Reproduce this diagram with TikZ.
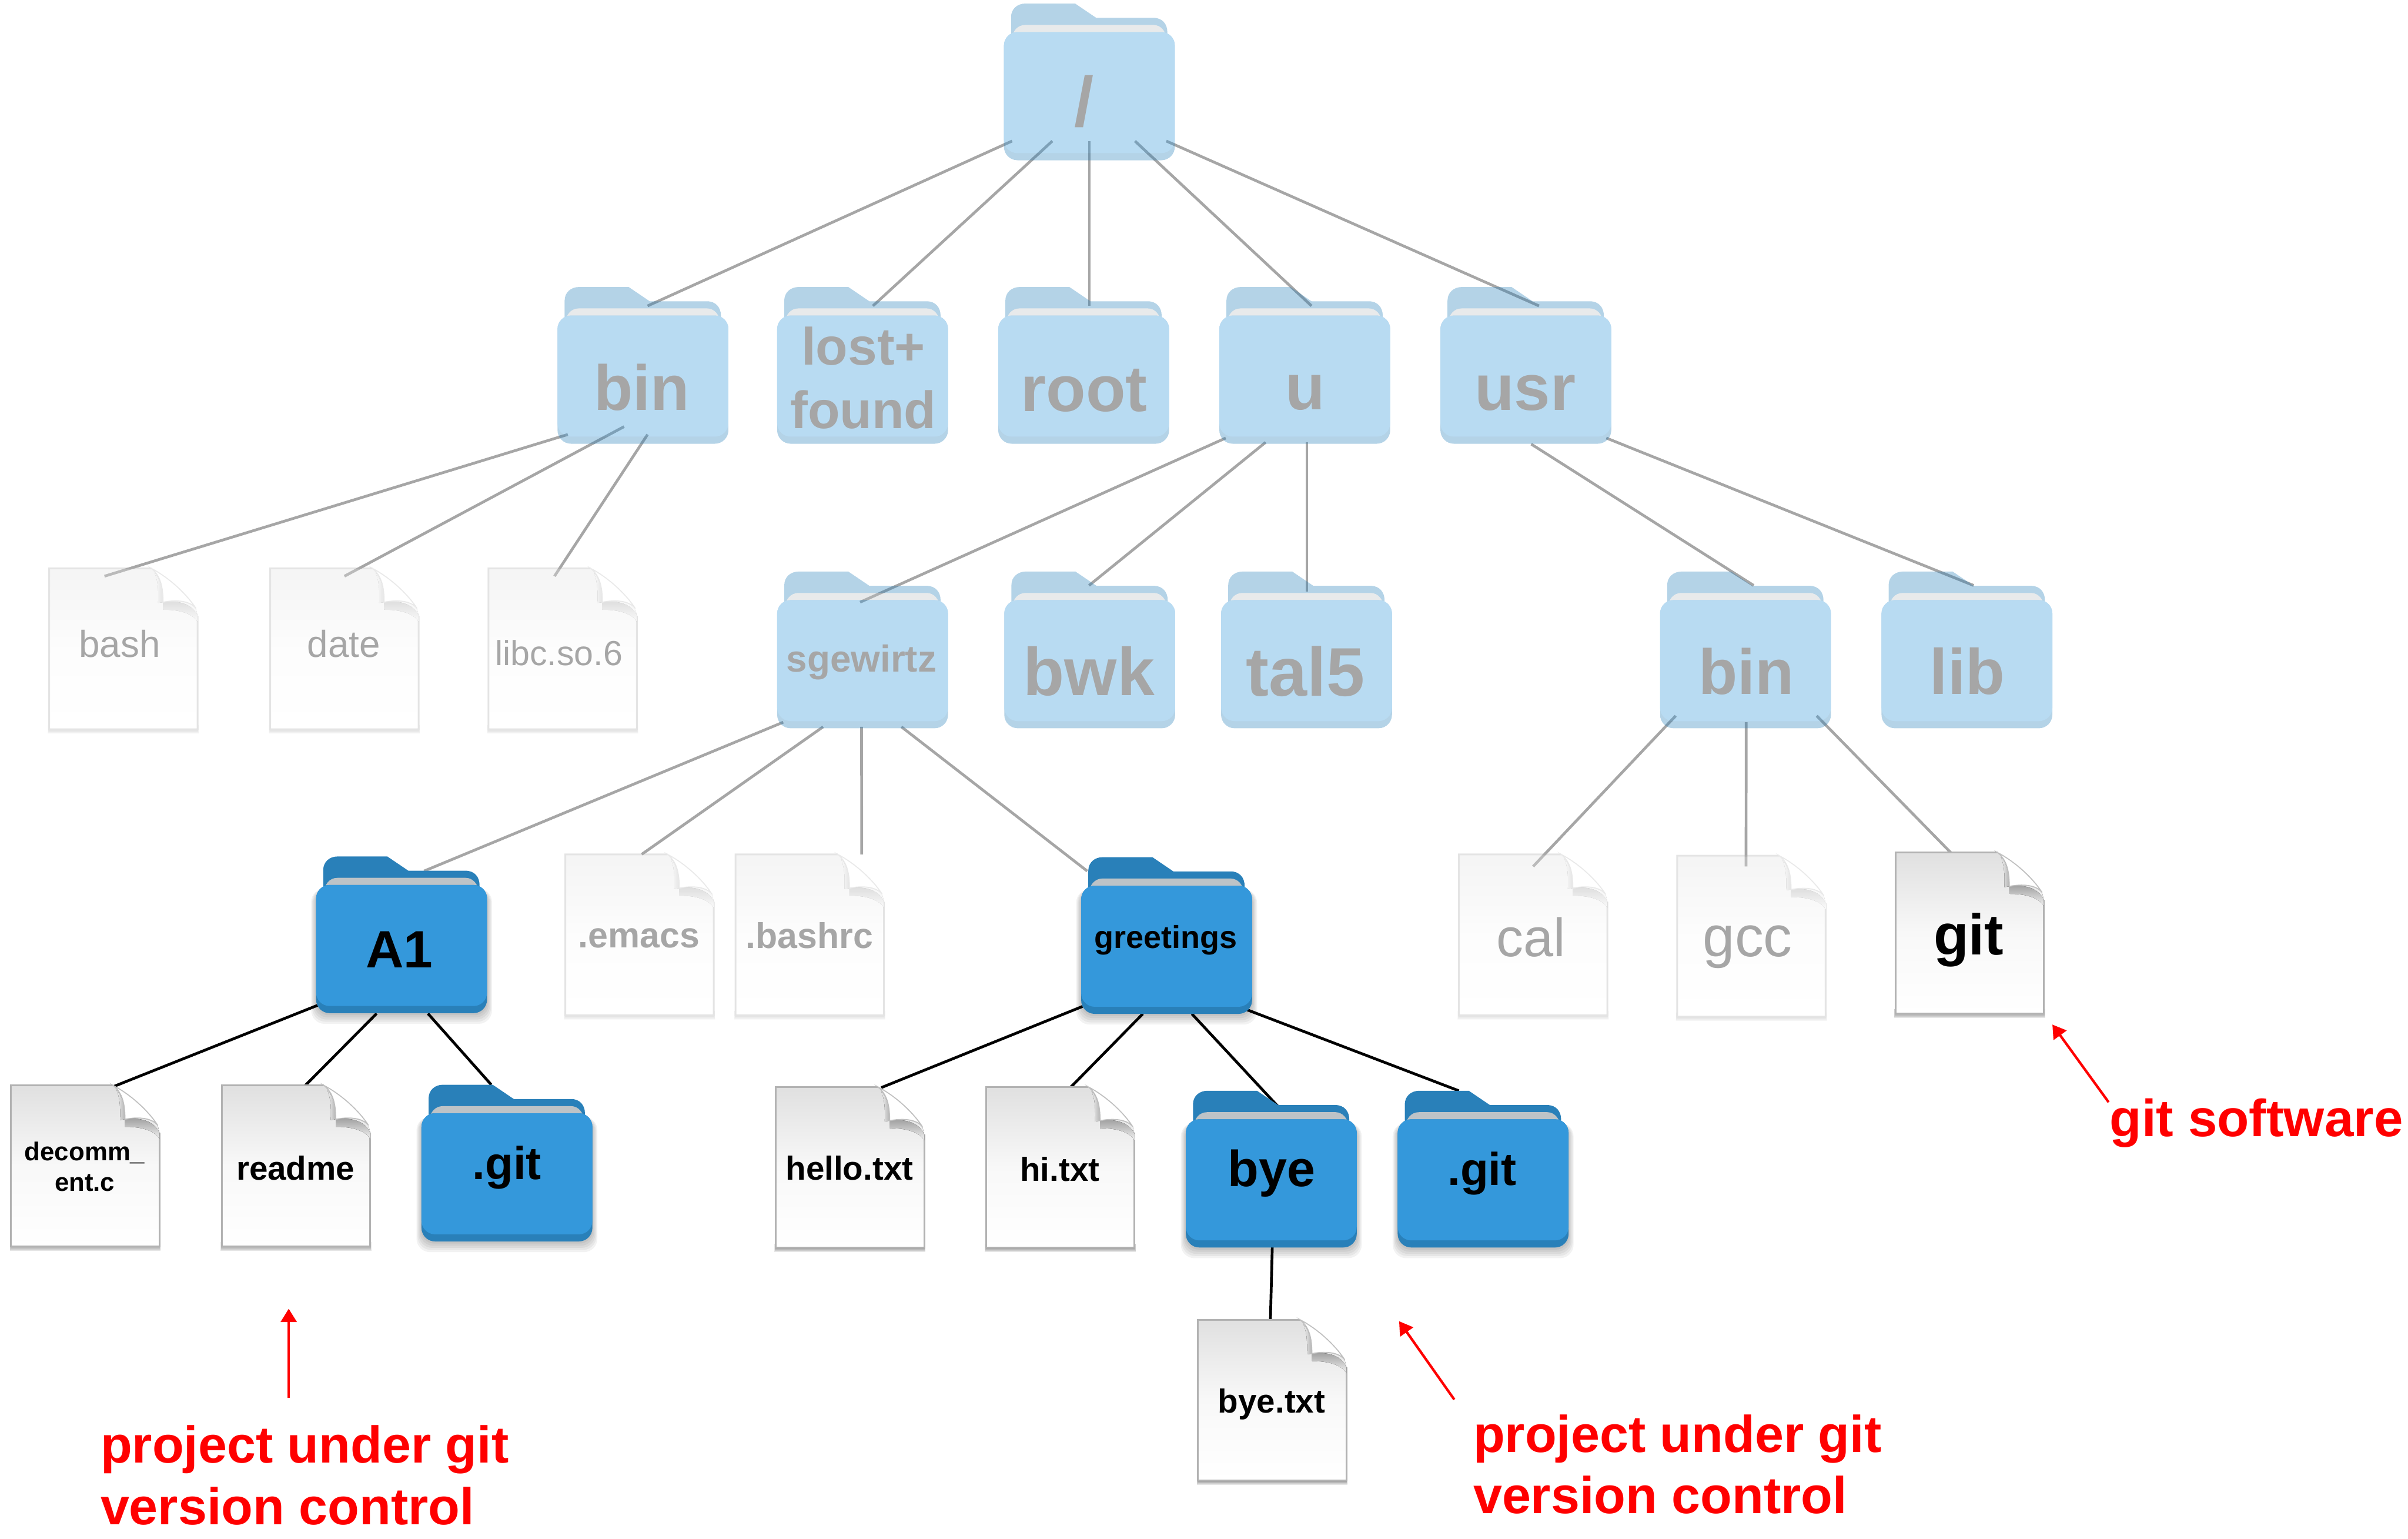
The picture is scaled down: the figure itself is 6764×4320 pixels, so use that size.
\documentclass[tikz,border=0pt]{standalone}
\usepackage{fontspec}
\setmainfont{Liberation Sans}
\usetikzlibrary{calc,backgrounds,arrows.meta}

\definecolor{folderfront}{HTML}{3498DB}
\definecolor{folderback}{HTML}{2980B9}
\definecolor{folderpage}{HTML}{BDC3C7}
\definecolor{fadedgray}{HTML}{A6A6A6}
\definecolor{markred}{HTML}{FF0000}
\definecolor{filetop}{HTML}{E0E0E0}

\newcommand{\tagfont}[1]{\fontsize{#1}{\dimexpr#1pt*6/5\relax}\selectfont}

\tikzset{
    link/.style={line width=1.1pt, draw=black},
    fadedlink/.style={line width=1.1pt, draw=fadedgray},
    redarrow/.style={-{Stealth[inset=0pt,length=5.3pt,width=6.3pt]}, draw=markred, line width=1pt},
    folderbox/.style={minimum width=2.4cm, minimum height=2.2cm, inner sep=0pt},
    sheetbox/.style={minimum width=2.085cm, minimum height=2.26cm, inner sep=0pt},
    tag/.style={align=center, inner sep=0pt},
    redtext/.style={font=\bfseries\fontsize{20.7}{24.6}\selectfont, text=markred, align=left, inner sep=0pt}
}

\newcommand{\folderart}[2]{
    \fill[folderback] (#1+20,#2+38) .. controls (#1+20,#2+15) and (#1+38,#2) .. (#1+60,#2) -- (#1+200,#2) -- (#1+259,#2+40) -- (#1+420,#2+40) .. controls (#1+445,#2+40) and (#1+459,#2+58) .. (#1+459,#2+80) -- (#1+459,#2+200) -- (#1+20,#2+200) -- cycle;
    \fill[folderpage] (#1+23,#2+100) .. controls (#1+23,#2+78) and (#1+38,#2+60) .. (#1+60,#2+60) -- (#1+420,#2+60) .. controls (#1+440,#2+60) and (#1+456,#2+78) .. (#1+456,#2+100) -- (#1+456,#2+200) -- (#1+23,#2+200) -- cycle;
    \fill[folderback, rounded corners=5.4pt] (#1,#2+80) rectangle (#1+480,#2+440);
    \fill[folderfront, rounded corners=5.4pt] (#1,#2+80) rectangle (#1+480,#2+420);
}
\newcommand{\sheetart}[2]{
    \foreach \grow in {3,6,9,12} {
        \fill[black, opacity=0.1] (#1-\grow*0.3,#2+440) rectangle (#1+417+\grow*0.3,#2+452+\grow);
    }
    \fill[top color=filetop, bottom color=white, middle color=filetop!22] (#1,#2) -- (#1+287,#2) .. controls (#1+335,#2+25) and (#1+385,#2+70) .. (#1+412,#2+112) -- (#1+417,#2+133) -- (#1+417,#2+452) -- (#1,#2+452) -- cycle;
    \draw[black!30, line width=0.7pt] (#1+287,#2) -- (#1,#2) -- (#1,#2+452) -- (#1+417,#2+452) -- (#1+417,#2+133);
    \fill[top color=black!38, bottom color=filetop!40] (#1+320,#2+95) .. controls (#1+355,#2+90) and (#1+400,#2+95) .. (#1+417,#2+133) -- (#1+417,#2+150) .. controls (#1+400,#2+122) and (#1+355,#2+116) .. (#1+320,#2+116) -- cycle;
    \fill[left color=filetop!40, right color=black!30] (#1+296,#2+12) .. controls (#1+312,#2+30) and (#1+320,#2+55) .. (#1+320,#2+95) -- (#1+306,#2+97) .. controls (#1+308,#2+55) and (#1+304,#2+30) .. (#1+296,#2+12) -- cycle;
    \fill[white, draw=black!25, line width=0.4pt] (#1+287,#2) .. controls (#1+312,#2+20) and (#1+320,#2+50) .. (#1+320,#2+95) .. controls (#1+355,#2+88) and (#1+395,#2+90) .. (#1+412,#2+112) .. controls (#1+385,#2+70) and (#1+335,#2+25) .. (#1+287,#2) -- cycle;
}
% name, x, y, text, size, text x, text y
\newcommand{\activefolder}[7]{
    \foreach \grow in {4,10,16,22,28} {
        \fill[black, opacity=0.05, rounded corners=5.4pt] (#2-\grow*0.5,#3+90) rectangle (#2+480+\grow*0.5,#3+442+\grow);
    }
    \folderart{#2}{#3}
    \node[folderbox] (#1) at (#2+240,#3+220) {};
    \node[tag, text=black, font=\bfseries\tagfont{#5}] (#1-text) at (#6,#7) {#4};
}
\newcommand{\fadedfolder}[7]{
    \begin{scope}[transparency group, opacity=0.35]
        \folderart{#2}{#3}
    \end{scope}
    \node[folderbox] (#1) at (#2+240,#3+220) {};
    \node[tag, text=fadedgray, font=\bfseries\tagfont{#5}] (#1-text) at (#6,#7) {#4};
}
\newcommand{\activefile}[7]{
    \sheetart{#2}{#3}
    \node[sheetbox] (#1) at (#2+208.5,#3+226) {};
    \node[tag, text=black, font=\tagfont{#5}] (#1-text) at (#6,#7) {#4};
}
\newcommand{\fadedfile}[7]{
    \begin{scope}[transparency group, opacity=0.35]
        \sheetart{#2}{#3}
    \end{scope}
    \node[sheetbox] (#1) at (#2+208.5,#3+226) {};
    \node[tag, text=fadedgray, font=\tagfont{#5}] (#1-text) at (#6,#7) {#4};
}

\begin{document}
\begin{tikzpicture}[x=0.005cm, y=-0.005cm]
\useasboundingbox (0,0) rectangle (6764,4320);

% faded tree
\fadedfolder{top}{2820}{10}{/}{28}{3045}{285}
\fadedfolder{bin}{1566}{806}{bin}{25.5}{1803}{1087}
\fadedfolder{lost}{2183}{806}{lost+\\found}{21}{2425}{1061}
\fadedfolder{rootdir}{2804}{806}{root}{26}{3045}{1097}
\fadedfolder{u}{3425}{806}{u}{26}{3667}{1103}
\fadedfolder{usr}{4046}{806}{usr}{26}{4284}{1103}
\fadedfolder{sgewirtz}{2183}{1605}{sgewirtz}{15}{2420}{1859}
\fadedfolder{bwk}{2821}{1605}{bwk}{27}{3059}{1885}
\fadedfolder{tal}{3430}{1605}{tal5}{27.5}{3667}{1885}
\fadedfolder{usrbin}{4663}{1605}{bin}{25.5}{4905}{1885}
\fadedfolder{lib}{5285}{1605}{lib}{25.7}{5526}{1885}

\fadedfile{bash}{138}{1596}{bash}{15}{336}{1808}
\fadedfile{date}{759}{1596}{date}{15}{966}{1808}
\fadedfile{libc}{1372}{1596}{libc.so.6}{13.9}{1570}{1834}
\fadedfile{emacs}{1588}{2399}{\bfseries .emacs}{14.3}{1795}{2635}
\fadedfile{bashrc}{2066}{2399}{\bfseries .bashrc}{14.3}{2274}{2627}
\fadedfile{cal}{4098}{2399}{cal}{21.6}{4301}{2632}
\fadedfile{gcc}{4711}{2403}{gcc}{23}{4909}{2660}
\activefile{gitbin}{5324}{2394}{\bfseries git}{23}{5530}{2640}

% active tree
\activefolder{aone}{888}{2405}{A1}{21}{1122}{2666}
\activefolder{greetings}{3037}{2407}{greetings}{12.7}{3274}{2640}
\activefolder{agit}{1184}{3046}{.git}{18.4}{1424}{3278}
\activefolder{bye}{3331}{3063}{bye}{20.3}{3572}{3295}
\activefolder{ggit}{3926}{3063}{.git}{18.4}{4163}{3295}

\activefile{decomm}{31}{3048}{\bfseries decomm\_\\\bfseries ent.c}{10.3}{238}{3276}
\activefile{readme}{623}{3048}{\bfseries readme}{13.3}{830}{3280}
\activefile{hello}{2179}{3052}{\bfseries hello.txt}{13.3}{2386}{3280}
\activefile{hi}{2770}{3052}{\bfseries hi.txt}{13.3}{2977}{3284}
\activefile{byetxt}{3365}{3706}{\bfseries bye.txt}{13.3}{3572}{3943}

% red notes
\node[redtext, anchor=west] (leftnote) at (281,4142) {project under git\\version control};
\node[redtext, anchor=west] (midnote) at (4137,4112) {project under git\\version control};
\node[redtext, font=\bfseries\fontsize{20.9}{24.6}\selectfont, anchor=base west] (softnote) at (5925,3191) {git software};
\coordinate (lefttip) at (811,3675);
\coordinate (midtip) at (3930,3710);
\coordinate (softtip) at (5765,2877);
\draw[redarrow] ([shift={(530,-216)}]leftnote.west) -- (lefttip);
\draw[redarrow] ([shift={(-52,-182)}]midnote.west) -- (midtip);
\draw[redarrow] ([shift={(-2,-96)}]softnote.base west) -- (softtip);

\begin{pgfonlayer}{background}
\draw[fadedlink] ([shift={(-217,166)}]top.center) -- ([shift={(13,-167)}]bin.center);
\draw[fadedlink] ([shift={(-104,166)}]top.center) -- ([shift={(29,-167)}]lost.center);
\draw[fadedlink] ([shift={(0,166)}]top.center) -- ([shift={(16,-167)}]rootdir.center);
\draw[fadedlink] ([shift={(128,166)}]top.center) -- ([shift={(19,-167)}]u.center);
\draw[fadedlink] ([shift={(216,166)}]top.center) -- ([shift={(37,-167)}]usr.center);
\draw[fadedlink] ([shift={(-211,194)}]bin.center) -- ([shift={(-53,-204)}]bash.center);
\draw[fadedlink] ([shift={(-53,172)}]bin.center) -- ([shift={(0,-204)}]date.center);
\draw[fadedlink] ([shift={(13,194)}]bin.center) -- ([shift={(-23,-204)}]libc.center);
\draw[fadedlink] ([shift={(-222,204)}]u.center) -- ([shift={(-7,-134)}]sgewirtz.center);
\draw[fadedlink] ([shift={(-110,216)}]u.center) -- ([shift={(-2,-181)}]bwk.center);
\draw[fadedlink] ([shift={(6,216)}]u.center) -- ([shift={(1,-164)}]tal.center);
\draw[fadedlink] ([shift={(15,221)}]usr.center) -- ([shift={(23,-181)}]usrbin.center);
\draw[fadedlink] ([shift={(226,204)}]usr.center) -- ([shift={(19,-181)}]lib.center);
\draw[fadedlink] ([shift={(-223,203)}]sgewirtz.center) -- ([shift={(63,-179)}]aone.center);
\draw[fadedlink] ([shift={(-111,216)}]sgewirtz.center) -- ([shift={(6,-226)}]emacs.center);
\draw[fadedlink] ([shift={(-3,216)}]sgewirtz.center) -- ([shift={(146,-226)}]bashrc.center);
\draw[fadedlink] ([shift={(109,216)}]sgewirtz.center) -- ([shift={(-223,-181)}]greetings.center);
\draw[fadedlink] ([shift={(-196,185)}]usrbin.center) -- ([shift={(0,-192)}]cal.center);
\draw[fadedlink] ([shift={(2,203)}]usrbin.center) -- ([shift={(-15,-196)}]gcc.center);
\draw[fadedlink] ([shift={(200,185)}]usrbin.center) -- ([shift={(-53,-226)}]gitbin.center);
\draw[link] ([shift={(-236,198)}]aone.center) -- ([shift={(82,-224)}]decomm.center);
\draw[link] ([shift={(-70,221)}]aone.center) -- ([shift={(26,-226)}]readme.center);
\draw[link] ([shift={(74,221)}]aone.center) -- ([shift={(-44,-220)}]agit.center);
\draw[link] ([shift={(-236,199)}]greetings.center) -- ([shift={(88,-224)}]hello.center);
\draw[link] ([shift={(-67,220)}]greetings.center) -- ([shift={(28,-224)}]hi.center);
\draw[link] ([shift={(71,220)}]greetings.center) -- ([shift={(18,-177)}]bye.center);
\draw[link] ([shift={(222,207)}]greetings.center) -- ([shift={(-68,-220)}]ggit.center);
\draw[link] ([shift={(3,211)}]bye.center) -- ([shift={(-5,-226)}]byetxt.center);
\end{pgfonlayer}
\end{tikzpicture}
\end{document}
